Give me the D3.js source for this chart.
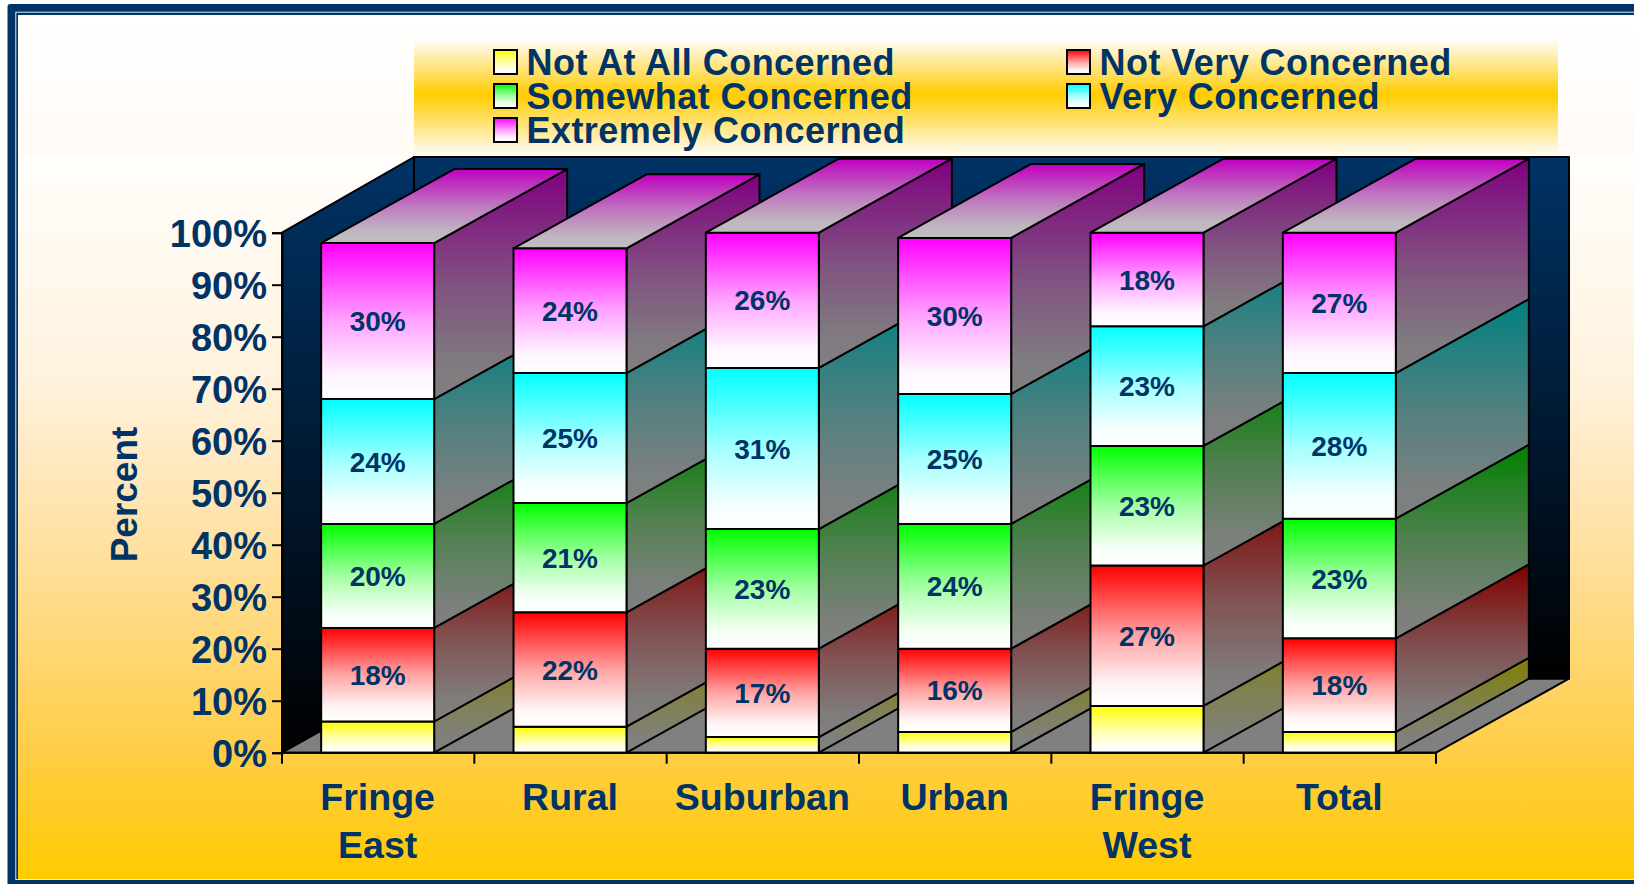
<!DOCTYPE html>
<html>
<head>
<meta charset="utf-8">
<style>
  html, body { margin: 0; padding: 0; background: #fff; }
  svg { display: block; }
  text { font-family: "Liberation Sans", Arial, sans-serif; font-weight: bold; fill: #003366; }
</style>
</head>
<body>
<svg id="chart" width="1634" height="884"></svg>
<script src="https://cdn.jsdelivr.net/npm/d3@7"></script>
<script>
const categories = [['Fringe', 'East'], ['Rural'], ['Suburban'], ['Urban'], ['Fringe', 'West'], ['Total']]
const seriesNames = ['Not At All Concerned', 'Not Very Concerned', 'Somewhat Concerned', 'Very Concerned', 'Extremely Concerned']
const notAtAll = [6, 5, 3, 4, 9, 4]
const notVery = [18, 22, 17, 16, 27, 18]
const somewhat = [20, 21, 23, 24, 23, 23]
const very = [24, 25, 31, 25, 23, 28]
const extremely = [30, 24, 26, 30, 18, 27]
const seriesColors = ['#ffff00', '#ff0000', '#00ff00', '#00ffff', '#ff00ff']
const yTicks = [0, 10, 20, 30, 40, 50, 60, 70, 80, 90, 100]

const navy = '#003366'
const seriesValues = [notAtAll, notVery, somewhat, very, extremely]

const svg = d3.select('#chart')
const defs = svg.append('defs')

// Vertical gradient helper, stops are [offset, color]
function gradient(id, stops) {
  const g = defs.append('linearGradient').attr('id', id)
    .attr('x1', 0).attr('y1', 0).attr('x2', 0).attr('y2', 1)
  g.selectAll('stop').data(stops).join('stop')
    .attr('offset', d => d[0])
    .attr('stop-color', d => d[1])
  return `url(#${id})`
}

// Mix a color with black, that is how the 3d faces get darker
function shade(color, k) {
  const c = d3.rgb(color)
  return d3.rgb(c.r * k, c.g * k, c.b * k).formatHex()
}

// The picture's fades run out to the end color early, not linearly
function fade(from, to) {
  const mix = d3.interpolateRgb(from, to)
  return [[0, mix(0)], [0.5, mix(0.64)], [0.85, mix(0.96)], [1, mix(1)]]
}

// Frame, cut off on the right and the bottom like the picture
svg.append('rect').attr('x', 7.5).attr('y', 4).attr('width', 1640).attr('height', 900).attr('rx', 3).attr('fill', navy)
svg.append('rect').attr('x', 15.3).attr('y', 11.7).attr('width', 1640).attr('height', 868.3).attr('fill', '#dfe8f0')
svg.append('rect').attr('x', 16.3).attr('y', 12.7).attr('width', 1640).attr('height', 866.3).attr('fill', navy)

// Background is two panels, the seam is at the top of the walls
const bgTopFill = gradient('bgTop', [[0, '#ffffff'], [1, '#fffbf6']])
const bgFill = gradient('bg', [[0, '#fffefc'], [0.296, '#fff3df'], [0.429, '#ffe8c0'], [0.562, '#ffdf9a'], [0.694, '#ffd670'], [0.828, '#ffcd45'], [0.961, '#ffcb10'], [1, '#ffcc00']])
svg.append('rect').attr('x', 18).attr('y', 15).attr('width', 1620).attr('height', 142).attr('fill', bgTopFill)
svg.append('rect').attr('x', 18).attr('y', 157).attr('width', 1620).attr('height', 722).attr('fill', bgFill)

// Legend band
const legendFill = gradient('legendBg', [[0, '#fffdfa'], [0.47, '#ffcc00'], [1, '#fffdfa']])
svg.append('rect').attr('x', 414).attr('y', 40).attr('width', 1144).attr('height', 116).attr('fill', legendFill)

// Scales
const plotLeft = 282
const plotRight = 1436
const y = d3.scaleLinear().domain([0, 100]).range([752.7, 232.7])
const x = d3.scaleBand().domain(d3.range(categories.length)).range([plotLeft, plotRight]).paddingInner(0).paddingOuter(0)
const barWidth = 113
const depthX = 133
const depthY = 74
const wallTop = 157

const line = pts => 'M' + pts.map(p => p.join(',')).join('L') + 'Z'

// Walls and floor
const wallFill = gradient('wall', [[0, navy], [0.5, '#001a33'], [1, '#000000']])
const plot = svg.append('g').attr('stroke', '#000').attr('stroke-width', 2).attr('stroke-linejoin', 'round')
plot.append('path')
  .attr('d', line([[plotLeft, y(100)], [plotLeft + depthX - 1, wallTop], [plotLeft + depthX - 1, y(0) - depthY], [plotLeft, y(0)]]))
  .attr('fill', wallFill)
plot.append('path')
  .attr('d', line([[plotLeft + depthX - 1, wallTop], [plotRight + depthX, wallTop], [plotRight + depthX, y(0) - depthY], [plotLeft + depthX - 1, y(0) - depthY]]))
  .attr('fill', wallFill)
plot.append('path')
  .attr('d', line([[plotLeft, y(0)], [plotRight, y(0)], [plotRight + depthX, y(0) - depthY], [plotLeft + depthX - 1, y(0) - depthY]]))
  .attr('fill', '#808080')

// Bars, each series gets front, side and top gradients
const frontFills = seriesColors.map((c, i) => gradient('front' + i, fade(c, '#ffffff')))
const sideFills = seriesColors.map((c, i) => gradient('side' + i, fade(shade(c, 0.5), '#808080')))
const topFills = seriesColors.map((c, i) => gradient('top' + i, fade(shade(c, 0.75), '#bfbfbf')))

categories.forEach((cat, ci) => {
  const x0 = x(ci) + (x.bandwidth() - barWidth) / 2 - 0.5
  const x1 = x0 + barWidth
  const bar = plot.append('g')
  let acc = 0
  seriesValues.forEach((vals, si) => {
    const v = vals[ci]
    const yB = y(acc)
    const yT = y(acc + v)
    acc += v
    bar.append('path')
      .attr('d', line([[x1, yT], [x1 + depthX, yT - depthY], [x1 + depthX, yB - depthY], [x1, yB]]))
      .attr('fill', sideFills[si])
    bar.append('rect')
      .attr('x', x0).attr('y', yT).attr('width', barWidth).attr('height', yB - yT)
      .attr('fill', frontFills[si])
    if (si == seriesValues.length - 1) {
      bar.append('path')
        .attr('d', line([[x0, yT], [x0 + depthX, yT - depthY], [x1 + depthX, yT - depthY], [x1, yT]]))
        .attr('fill', topFills[si])
    }
    // The bottom series carries no label in the picture
    if (si > 0) {
      svg.append('text')
        .attr('class', 'value')
        .attr('x', (x0 + x1) / 2)
        .attr('y', (yT + yB) / 2 + 10)
        .attr('text-anchor', 'middle')
        .style('font-size', '28px')
        .text(v + '%')
    }
  })
})

// Axes
const yAxis = svg.append('g')
  .attr('transform', `translate(${plotLeft},0)`)
  .call(d3.axisLeft(y).tickValues(yTicks).tickSize(10).tickPadding(5).tickFormat(d => d + '%'))
yAxis.select('.domain').attr('stroke', '#000').attr('stroke-width', 2)
yAxis.selectAll('.tick line').attr('stroke', '#000').attr('stroke-width', 2)
yAxis.selectAll('.tick text')
  .attr('fill', navy)
  .attr('y', 1.5)
  .style('font-family', '"Liberation Sans", Arial, sans-serif')
  .style('font-weight', 'bold')
  .style('font-size', '38px')

// Ticks sit on the band edges, labels under the band centres
const edges = d3.range(categories.length + 1).map(i => plotLeft + i * x.step())
const xAxis = svg.append('g').attr('stroke', '#000').attr('stroke-width', 2)
xAxis.append('line').attr('x1', plotLeft).attr('x2', plotRight).attr('y1', y(0)).attr('y2', y(0))
xAxis.selectAll('.edge').data(edges).join('line')
  .attr('class', 'edge')
  .attr('x1', d => d).attr('x2', d => d)
  .attr('y1', y(0)).attr('y2', y(0) + 11)

categories.forEach((lines, ci) => {
  lines.forEach((t, li) => {
    svg.append('text')
      .attr('x', x(ci) + x.bandwidth() / 2 - 0.5)
      .attr('y', 810 + li * 47.5)
      .attr('text-anchor', 'middle')
      .style('font-size', '37.5px')
      .text(t)
  })
})

// Axis title
svg.append('text')
  .attr('transform', 'translate(137,494.5) rotate(-90)')
  .attr('text-anchor', 'middle')
  .style('font-size', '37px')
  .text('Percent')

// Legend
const legendCols = [494, 1067]
const legendRows = [50, 84, 118]
seriesNames.forEach((name, i) => {
  const lx = legendCols[i % 2]
  const ly = legendRows[Math.floor(i / 2)]
  svg.append('rect')
    .attr('x', lx).attr('y', ly).attr('width', 23).attr('height', 24)
    .attr('fill', frontFills[i])
    .attr('stroke', '#000').attr('stroke-width', 2)
  svg.append('text')
    .attr('x', lx + 32.5)
    .attr('y', ly + 25)
    .style('font-size', '36px')
    .style('letter-spacing', '0.45px')
    .text(name)
})
</script>
</body>
</html>
